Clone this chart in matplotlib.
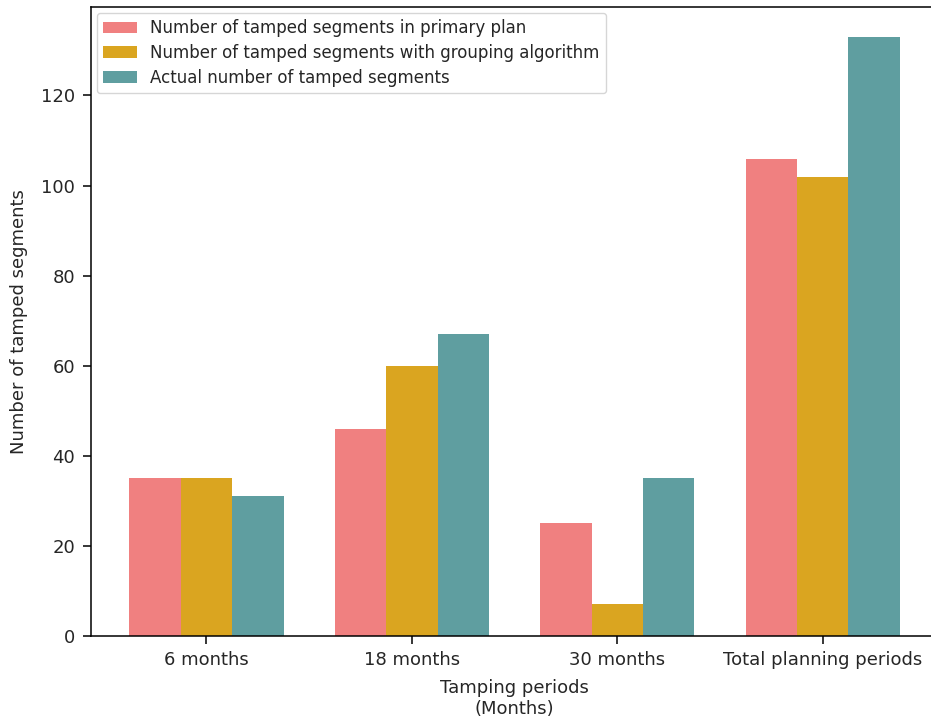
import numpy as np
import matplotlib
matplotlib.use('Agg')
import matplotlib.pyplot as plt

periods = ['6 months', '18 months', '30 months', 'Total planning periods']
primary_plan = [35, 46, 25, 106]
grouping_alg = [35, 60, 7, 102]
actual = [31, 67, 35, 133]

labels = ['Number of tamped segments in primary plan',
          'Number of tamped segments with grouping algorithm',
          'Actual number of tamped segments']
colors = ['lightcoral', 'goldenrod', 'cadetblue']

plt.rcParams['font.family'] = 'DejaVu Sans'
plt.rcParams['text.color'] = '#262626'
plt.rcParams['axes.labelcolor'] = '#262626'
plt.rcParams['xtick.labelcolor'] = '#262626'
plt.rcParams['ytick.labelcolor'] = '#262626'
plt.rcParams['axes.linewidth'] = 1.1
plt.rcParams['xtick.major.size'] = 6
plt.rcParams['ytick.major.size'] = 6
plt.rcParams['xtick.major.pad'] = 5
plt.rcParams['ytick.major.pad'] = 5.5
plt.rcParams['xtick.major.width'] = 1.1
plt.rcParams['ytick.major.width'] = 1.1

fig = plt.figure(figsize=(9.31, 7.19), dpi=100)
ax = fig.add_axes([0.0977, 0.1154, 0.91, 0.8749])

x = np.arange(len(periods))
w = 0.25
for i, (vals, lab, c) in enumerate(zip([primary_plan, grouping_alg, actual], labels, colors)):
    ax.bar(x + (i - 1) * w, vals, w, label=lab, color=c)

# right edge of the axes runs past the canvas
ax.spines['right'].set_visible(False)

ax.set_xticks(x)
ax.set_xticklabels(periods, fontsize=13)
ax.tick_params(axis='y', labelsize=13)
ax.set_xlabel('Tamping periods\n(Months)', fontsize=13, labelpad=7)
ax.set_ylabel('Number of tamped segments', fontsize=13, labelpad=9)
ax.legend(loc='upper left', fontsize=12, labelspacing=0.4, borderaxespad=0.35)

fig.savefig('out.png', dpi=100)
